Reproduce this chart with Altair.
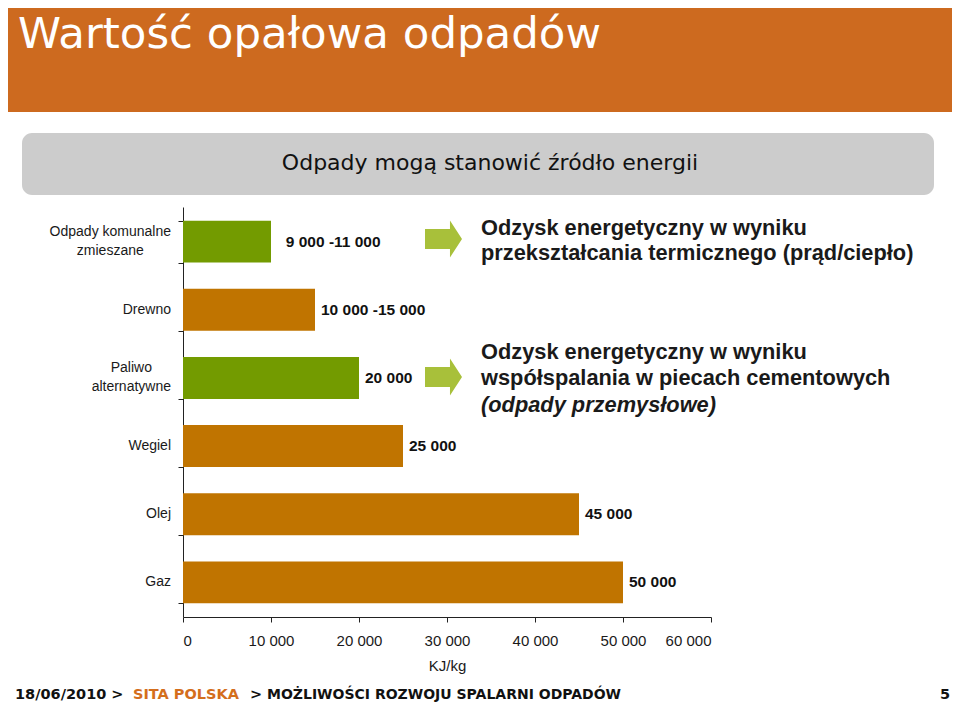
import altair as alt
import pandas as pd

# ---- data ----
categories = ["Odpady komunalne zmieszane", "Drewno", "Paliwo alternatywne", "Wegiel", "Olej", "Gaz"]
label_line1 = ["Odpady komunalne", "Drewno", "Paliwo", "Wegiel", "Olej", "Gaz"]
label_line2 = ["zmieszane", "", "alternatywne", "", "", ""]
values = [10000, 15000, 20000, 25000, 45000, 50000]
label_at = [11000, 15000, 20000, 25000, 45000, 50000]
value_labels = ["9 000 -11 000", "10 000 -15 000", "20 000", "25 000", "45 000", "50 000"]
kinds = ["odpady", "paliwo", "odpady", "paliwo", "paliwo", "paliwo"]
x_ticks = [0, 10000, 20000, 30000, 40000, 50000, 60000]

title_text = "Wartość opałowa odpadów"
subtitle_text = "Odpady mogą stanowić źródło energii"
note1 = ["Odzysk energetyczny w wyniku", "przekształcania termicznego (prąd/ciepło)"]
note2 = ["Odzysk energetyczny w wyniku", "współspalania w piecach cementowych", "(odpady przemysłowe)"]
footer_date = "18/06/2010 >"
footer_company = "SITA POLSKA"
footer_sep = ">"
footer_rest = "MOŻLIWOŚCI ROZWOJU SPALARNI ODPADÓW"
page_number = "5"

df = pd.DataFrame({
    "kategoria": categories,
    "linia1": label_line1,
    "linia2": label_line2,
    "wartosc": values,
    "etykieta_x": label_at,
    "etykieta": value_labels,
    "rodzaj": kinds,
})

# ---- layout (page pixel -> view pixel) ----
OX, OY = 183, 207
W, H = 528, 410
ARIAL = "Liberation Sans"
VERDANA = "DejaVu Sans"
CAT_SIZE = 14

# approximate Arial advance widths (1/1000 em) used to centre two-line labels
_AW = {
    "a": 556, "b": 556, "c": 500, "d": 556, "e": 556, "f": 278, "g": 556, "h": 556, "i": 222,
    "j": 222, "k": 500, "l": 222, "m": 833, "n": 556, "o": 556, "p": 556, "q": 556, "r": 333,
    "s": 500, "t": 278, "u": 556, "v": 500, "w": 722, "x": 500, "y": 500, "z": 500, " ": 278,
    "O": 778, "P": 667, "D": 722, "W": 944, "G": 722,
}


def text_width(s, size):
    return sum(_AW.get(c, 556) for c in s) * size / 1000.0


one = alt.Data(values=[{}])


def rect(x, x2, y, y2, color, radius=0):
    return alt.Chart(one).mark_rect(color=color, cornerRadius=radius).encode(
        x=alt.value(x - OX), x2=alt.value(x2 - OX), y=alt.value(y - OY), y2=alt.value(y2 - OY)
    )


def text(t, x, y, size, font=ARIAL, color="#1a1a1a", weight="normal", style="normal",
         align="left", baseline="middle"):
    return alt.Chart(one).mark_text(
        text=t, font=font, fontSize=size, fontWeight=weight, fontStyle=style,
        color=color, align=align, baseline=baseline
    ).encode(x=alt.value(x - OX), y=alt.value(y - OY))


ARROW = "M-1,-0.54L0.35,-0.54L0.35,-1L1,0L0.35,1L0.35,0.54L-1,0.54Z"


def arrow(cx, cy):
    return alt.Chart(one).mark_point(
        shape=ARROW, filled=True, opacity=1, color="#A8C03A", size=37 * 37, strokeWidth=0
    ).encode(x=alt.value(cx - OX), y=alt.value(cy - OY))


header = rect(5, 958, 0, 112, "#CD6A1F")
title = text(title_text, 18, 48, 43.5, font=VERDANA, color="white", baseline="alphabetic")
box = rect(22, 934, 133, 195, "#CCCCCC", radius=10)
subtitle = text(subtitle_text, 490, 163, 22, font=VERDANA, color="#111111", align="center")

y_sort = categories
y_enc = alt.Y(
    "kategoria:N", sort=y_sort, title=None,
    scale=alt.Scale(paddingInner=0.385, paddingOuter=0.2),
    axis=alt.Axis(
        labels=False, tickBand="extent", tickSize=5,
        domainColor="#222222", tickColor="#222222",
    ),
)
x_enc = alt.X(
    "wartosc:Q", title="KJ/kg",
    scale=alt.Scale(domain=[0, 60000], nice=False),
    axis=alt.Axis(
        values=x_ticks, labelExpr="replace(format(datum.value, ','), ',', ' ')",
        labelFont=ARIAL, labelFontSize=15, labelColor="#1a1a1a", labelPadding=11,
        titleFont=ARIAL, titleFontSize=15, titleFontWeight="normal", titleColor="#1a1a1a",
        titlePadding=10, tickSize=5, domainColor="#222222", tickColor="#222222", grid=False,
    ),
)

bars = alt.Chart(df).mark_bar().encode(
    x=x_enc,
    y=y_enc,
    color=alt.Color("rodzaj:N", scale=alt.Scale(domain=["odpady", "paliwo"], range=["#739B00", "#C07400"]), legend=None),
)

bar_labels = alt.Chart(df).mark_text(
    align="left", baseline="middle", dx=6, font=ARIAL, fontSize=15.5, fontWeight="bold", color="#111111"
).encode(
    x=alt.X("etykieta_x:Q"),
    y=alt.Y("kategoria:N", sort=y_sort),
    text="etykieta:N",
)

LABEL_RIGHT = -12
cat_layers = []
for cat, l1, l2 in zip(categories, label_line1, label_line2):
    base = alt.Chart(df).transform_filter(alt.datum.kategoria == cat)
    if not l2:
        cat_layers.append(base.mark_text(
            align="right", baseline="middle", font=ARIAL, fontSize=CAT_SIZE, color="#1a1a1a"
        ).encode(x=alt.value(LABEL_RIGHT), y=alt.Y("kategoria:N", sort=y_sort), text="linia1:N"))
    else:
        w = max(text_width(l1, CAT_SIZE), text_width(l2, CAT_SIZE))
        cx = LABEL_RIGHT - w / 2
        for field, dy in (("linia1", -9.5), ("linia2", 9.5)):
            cat_layers.append(base.mark_text(
                align="center", baseline="middle", dy=dy, font=ARIAL, fontSize=CAT_SIZE, color="#1a1a1a"
            ).encode(x=alt.value(cx), y=alt.Y("kategoria:N", sort=y_sort), text=f"{field}:N"))

NOTE = 21.8
FY = 695
layers = [
    header, title, box, subtitle,
    bars, bar_labels,
    *cat_layers,
    arrow(443.5, 239), arrow(443.5, 377),
    text(note1[0], 481, 228, NOTE, weight="bold"),
    text(note1[1], 481, 253, NOTE, weight="bold"),
    text(note2[0], 481, 352, NOTE, weight="bold"),
    text(note2[1], 481, 378, NOTE, weight="bold"),
    text(note2[2], 481, 405, NOTE, weight="bold", style="italic"),
    text(footer_date, 15, FY, 14.5, font=VERDANA, weight="bold", color="#111111"),
    text(footer_company, 133, FY, 14.5, font=VERDANA, weight="bold", color="#D46E1C"),
    text(footer_sep, 250, FY, 14.5, font=VERDANA, weight="bold", color="#111111"),
    text(footer_rest, 267, FY, 14, font=VERDANA, weight="bold", color="#111111"),
    text(page_number, 945, FY, 14.5, font=VERDANA, weight="bold", color="#111111", align="center"),
]

chart = alt.layer(*layers).properties(
    width=W, height=H,
    autosize=alt.AutoSizeParams(type="none"),
    padding={"left": 175, "top": 199, "right": 241, "bottom": 87},
    background="white",
).configure_view(stroke=None)

chart.save("out.html", embed_options={"renderer": "svg", "actions": False})
